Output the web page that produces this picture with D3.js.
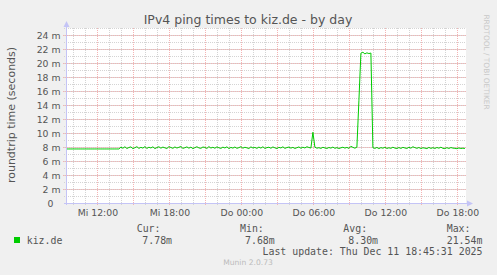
<!DOCTYPE html>
<html>
  <head>
    <script src="https://d3js.org/d3.v7.min.js"></script>
    <style>
      body { margin: 0; background: #f0f0f0; }
      text { font-family: "DejaVu Sans", sans-serif; fill: #555; }
      .mono { font-family: "DejaVu Sans Mono", monospace; }
    </style>
  </head>
  <body>
    <svg id="chart" width="497" height="275"></svg>

    <script>
      // ping samples, one every 10 minutes from Wed 09:30
      const startTime = "2025-12-10T09:30:00Z"
      const stepMinutes = 10
      const pingMs = [
        // Wed 09:30 - 13:50, flat (consolidated)
        7.72, 7.72, 7.72, 7.72, 7.72, 7.72, 7.72, 7.72, 7.72, 7.72,
        7.72, 7.72, 7.72, 7.72, 7.72, 7.72, 7.72, 7.72, 7.72, 7.72,
        7.72, 7.72, 7.72, 7.72, 7.72, 7.72, 7.72,
        // Wed 14:00 - Thu 05:50
        7.98, 7.82, 8.04, 7.78, 7.93, 8.02, 7.76, 7.90, 8.05, 7.80,
        7.95, 7.84, 8.06, 7.79, 7.97, 7.86, 8.03, 7.77, 7.92, 8.04,
        7.83, 7.99, 7.88, 7.78, 8.05, 7.93, 7.81, 8.01, 7.85, 7.96,
        8.07, 7.80, 7.90, 8.02, 7.83, 7.98, 7.76, 7.91, 8.04, 7.87,
        7.81, 8.00, 7.94, 7.79, 8.06, 7.85, 7.96, 7.82, 8.02, 7.89,
        7.80, 7.98, 7.86, 8.03, 7.77, 7.94, 7.84, 8.00, 7.81, 7.91,
        8.05, 7.83, 7.96, 7.88, 7.78, 8.02, 7.86, 7.94, 7.80, 7.99,
        7.84, 8.04, 7.79, 7.91, 7.97, 7.82, 8.01, 7.88, 7.77, 7.95,
        7.86, 8.03, 7.80, 7.92, 7.99, 7.84, 7.95, 7.79, 7.90, 8.01,
        7.82, 7.97, 7.86, 8.04, 7.93, 7.85,
        // Thu 06:00 spike
        10.1,
        // Thu 06:10 - 09:40
        7.98, 7.83, 7.90, 7.80, 7.96, 7.86, 7.79, 7.93, 7.84, 7.99,
        7.81, 7.91, 7.78, 7.88, 7.97, 7.84, 7.94, 7.80, 8.10, 7.95,
        7.83, 7.98,
        // Thu 09:50 - 10:50, the high period
        14.6, 21.40, 21.54, 21.30, 21.45, 21.35, 21.42,
        // Thu 11:00 - 18:40
        7.90, 7.80, 7.94, 7.77, 7.91, 7.83, 7.96, 7.79, 7.89, 7.81,
        7.97, 7.84, 7.78, 7.92, 7.80, 7.95, 7.86, 7.79, 7.96, 7.83,
        8.04, 7.91, 7.81, 7.93, 7.78, 7.89, 7.84, 7.77, 7.94, 7.80,
        7.90, 7.79, 7.93, 7.83, 7.97, 7.81, 7.77, 7.90, 7.79, 7.92,
        7.84, 7.81, 7.76, 7.86, 7.79, 7.83, 7.78
      ]

      const yTickValues = [0, 2, 4, 6, 8, 10, 12, 14, 16, 18, 20, 22, 24]
      const yTickLabels = ["0", "2 m", "4 m", "6 m", "8 m", "10 m", "12 m", "14 m", "16 m", "18 m", "20 m", "22 m", "24 m"]
      const xTickLabels = ["Mi 12:00", "Mi 18:00", "Do 00:00", "Do 06:00", "Do 12:00", "Do 18:00"]

      const legendHeads = ["Cur:", "Min:", "Avg:", "Max:"]
      const legendValues = ["7.78m", "7.68m", "8.30m", "21.54m"]

      var t0 = new Date(startTime)
      var data = pingMs.map(function(v, i) {
        return { t: new Date(t0.getTime() + i * stepMinutes * 60000), v: v }
      })

      var plotLeft = 66, plotRight = 466, plotTop = 28, plotBottom = 203

      var x = d3.scaleUtc()
        .domain([new Date("2025-12-10T09:25:31Z"), new Date("2025-12-11T18:45:31Z")])
        .range([plotLeft, plotRight])
      var y = d3.scaleLinear()
        .domain([0, 25])
        .range([plotBottom, plotTop])

      var svg = d3.select("#chart")

      svg.append("rect")
        .attr("x", plotLeft).attr("y", plotTop)
        .attr("width", plotRight - plotLeft).attr("height", plotBottom - plotTop)
        .attr("fill", "#fff")

      var grid = svg.append("g").attr("shape-rendering", "crispEdges")

      // minor grid
      var minorY = d3.range(1, 26)
      grid.selectAll(".hmin").data(minorY).enter().append("line")
        .attr("x1", plotLeft - 2).attr("x2", plotRight)
        .attr("y1", function(d) { return Math.round(y(d)) + 0.5 })
        .attr("y2", function(d) { return Math.round(y(d)) + 0.5 })
        .attr("stroke", "#d4d4d4").attr("stroke-dasharray", "1,1")

      var hours = x.ticks(d3.utcHour.every(1))
      grid.selectAll(".vmin").data(hours).enter().append("line")
        .attr("x1", function(d) { return Math.round(x(d)) + 0.5 })
        .attr("x2", function(d) { return Math.round(x(d)) + 0.5 })
        .attr("y1", plotTop).attr("y2", plotBottom + 2)
        .attr("stroke", "#d4d4d4").attr("stroke-dasharray", "1,1")

      // major grid
      grid.selectAll(".hmaj").data(yTickValues.slice(1)).enter().append("line")
        .attr("x1", plotLeft - 3).attr("x2", plotRight)
        .attr("y1", function(d) { return Math.round(y(d)) + 0.5 })
        .attr("y2", function(d) { return Math.round(y(d)) + 0.5 })
        .attr("stroke", "#f4b4b4").attr("stroke-dasharray", "1,1")

      var threeHours = x.ticks(d3.utcHour.every(3))
      grid.selectAll(".vmaj").data(threeHours).enter().append("line")
        .attr("x1", function(d) { return Math.round(x(d)) + 0.5 })
        .attr("x2", function(d) { return Math.round(x(d)) + 0.5 })
        .attr("y1", plotTop).attr("y2", plotBottom + 3)
        .attr("stroke", "#f4b4b4").attr("stroke-dasharray", "1,1")

      // y labels
      svg.selectAll(".ylab").data(yTickValues).enter().append("text")
        .attr("x", function(d) { return d == 0 ? 53.5 : 60.5 })
        .attr("y", function(d) { return y(d) + 3.5 })
        .attr("text-anchor", "end")
        .style("font-size", "9.3px")
        .text(function(d, i) { return yTickLabels[i] })

      // x labels
      var sixHours = x.ticks(d3.utcHour.every(6))
      svg.selectAll(".xlab").data(sixHours).enter().append("text")
        .attr("x", function(d) { return x(d) + 1 })
        .attr("y", 216)
        .attr("text-anchor", "middle")
        .style("font-size", "9.3px")
        .text(function(d, i) { return xTickLabels[i] })

      // data line
      var line = d3.line()
        .x(function(d) { return x(d.t) })
        .y(function(d) { return y(d.v) })
      svg.append("path")
        .datum(data)
        .attr("d", line)
        .attr("fill", "none")
        .attr("stroke", "#00cc00")
        .attr("stroke-width", 1)

      // axes with arrows
      var axisColor = "#c4c4f6"
      svg.append("line")
        .attr("x1", plotLeft + 0.5).attr("x2", plotLeft + 0.5)
        .attr("y1", plotBottom + 2).attr("y2", 24)
        .attr("stroke", axisColor)
      svg.append("path")
        .attr("d", "M" + (plotLeft - 2.5) + ",27L" + (plotLeft + 0.5) + ",21L" + (plotLeft + 3.5) + ",27Z")
        .attr("fill", axisColor)
      svg.append("line")
        .attr("x1", plotLeft - 2).attr("x2", plotRight + 4)
        .attr("y1", plotBottom + 0.5).attr("y2", plotBottom + 0.5)
        .attr("stroke", axisColor)
      svg.append("path")
        .attr("d", "M" + (plotRight + 1) + "," + (plotBottom - 2.5) + "L" + (plotRight + 7) + "," + (plotBottom + 0.5) + "L" + (plotRight + 1) + "," + (plotBottom + 3.5) + "Z")
        .attr("fill", axisColor)

      // titles
      svg.append("text")
        .attr("x", 248).attr("y", 23.5)
        .attr("text-anchor", "middle")
        .style("font-size", "12.5px")
        .text("IPv4 ping times to kiz.de - by day")

      svg.append("text")
        .attr("transform", "translate(15,115) rotate(-90)")
        .attr("text-anchor", "middle")
        .style("font-size", "11px")
        .text("roundtrip time (seconds)")

      svg.append("text")
        .attr("transform", "translate(483.5,62) rotate(90)")
        .attr("text-anchor", "middle")
        .style("font-size", "7.4px")
        .style("fill", "#c8c8c8")
        .text("RRDTOOL / TOBI OETIKER")

      // legend
      var colX = [136.7, 240, 343.3, 446.7]
      var valX = [142.3, 245, 348.3, 446.7]
      svg.selectAll(".lhead").data(legendHeads).enter().append("text")
        .attr("class", "mono")
        .attr("x", function(d, i) { return colX[i] })
        .attr("y", 232)
        .style("font-size", "9.9px")
        .text(function(d) { return d })
      svg.selectAll(".lval").data(legendValues).enter().append("text")
        .attr("class", "mono")
        .attr("x", function(d, i) { return valX[i] })
        .attr("y", 243.5)
        .style("font-size", "9.9px")
        .text(function(d) { return d })

      svg.append("rect")
        .attr("x", 14).attr("y", 237)
        .attr("width", 6).attr("height", 6)
        .attr("fill", "#00cc00")
      svg.append("text")
        .attr("class", "mono")
        .attr("x", 26.7).attr("y", 243.5)
        .style("font-size", "9.9px")
        .text("kiz.de")

      svg.append("text")
        .attr("class", "mono")
        .attr("x", 482.5).attr("y", 255)
        .attr("text-anchor", "end")
        .style("font-size", "9.9px")
        .text("Last update: Thu Dec 11 18:45:31 2025")

      svg.append("text")
        .attr("x", 248).attr("y", 265)
        .attr("text-anchor", "middle")
        .style("font-size", "7.6px")
        .style("fill", "#bbb")
        .text("Munin 2.0.73")
    </script>
  </body>
</html>
